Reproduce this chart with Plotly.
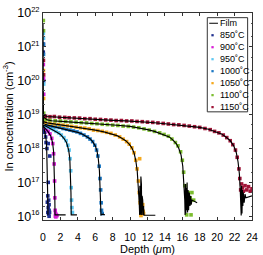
import plotly.graph_objects as go

# ---------------- data: simulated film profiles (depth in um, In conc. in cm^-3)
film_850_x = [0.0, 0.05, 0.15, 0.25, 0.35, 0.42, 0.48, 0.52, 0.55, 0.57]
film_850_y = [2e19, 4.5e18, 3.6e18, 2.8e18, 1.9e18, 1.1e18, 4e17, 1e17, 3e16, 1.1e16]

film_900_x = [0.0, 0.05, 0.3, 0.6, 0.9, 1.1, 1.22, 1.3, 1.35, 1.38, 1.6, 2.6]
film_900_y = [2e19, 4.5e18, 3.8e18, 3.1e18, 2.3e18, 1.5e18, 8e17, 2.5e17, 5e16, 1.1e16, 1.1e16, 1.1e16]

film_950_x = [0.0, 0.05, 0.4, 0.8, 1.2, 1.6, 2.0, 2.4, 2.7, 2.95, 3.08, 3.16, 3.21, 3.24, 3.5, 3.9]
film_950_y = [2e19, 5e18, 4.5e18, 4e18, 3.5e18, 3.0e18, 2.6e18, 2.0e18, 1.5e18, 9e17, 5e17, 2e17, 5e16, 1.1e16, 1.1e16, 1.1e16]

film_1000_x = [0.0, 0.05, 0.5, 1.0, 1.5, 2.0, 2.5, 3.0, 3.5, 4.0, 4.5, 5.0, 5.4, 5.7, 6.0, 6.2, 6.35,
               6.48, 6.56, 6.62, 6.66, 6.9, 7.1]
film_1000_y = [2e19, 5.4e18, 4.9e18, 4.6e18, 4.3e18, 4.05e18, 3.8e18, 3.5e18, 3.25e18, 3.0e18, 2.7e18,
               2.3e18, 1.95e18, 1.6e18, 1.2e18, 8.5e17, 5e17, 2.2e17, 8e16, 2.5e16, 1.1e16, 1.15e16, 1.1e16]

film_1050_x = [0.0, 0.05, 0.5, 1, 2, 3, 4, 5, 6, 7, 7.8, 8.5, 9.0, 9.5, 9.9, 10.2, 10.45, 10.65, 10.82,
               10.95, 11.05, 11.1, 11.12, 11.15, 11.18, 11.2, 11.24, 11.27, 11.3, 11.34, 11.38, 11.42,
               11.45, 11.5, 11.55, 11.6, 12.9]
film_1050_y = [2e19, 6.2e18, 5.7e18, 5.4e18, 5.0e18, 4.6e18, 4.25e18, 3.9e18, 3.5e18, 3.1e18, 2.75e18,
               2.4e18, 2.05e18, 1.7e18, 1.35e18, 1.05e18, 7.5e17, 4.5e17, 2.2e17, 8e16, 2.5e16, 1.1e16,
               8e16, 1.2e16, 6e16, 1.1e16, 1.5e17, 1.2e16, 9e16, 1.1e16, 4e16, 1.1e16, 3e16, 1.1e16,
               2e16, 1.07e16, 1.07e16]

film_1100_x = [0.0, 0.05, 0.5, 1, 2.5, 4, 5.5, 7, 8.5, 10, 11, 12, 12.8, 13.5, 14.0, 14.5, 14.9, 15.3,
               15.6, 15.85, 16.05, 16.2, 16.28, 16.32, 16.36, 16.4, 16.45, 16.5, 16.55, 16.6, 16.66,
               16.72, 16.8, 16.88, 16.95, 17.02, 17.1, 17.7]
film_1100_y = [5e21, 8.5e18, 7.0e18, 6.6e18, 6.2e18, 5.9e18, 5.55e18, 5.2e18, 4.85e18, 4.5e18, 4.1e18,
               3.6e18, 3.2e18, 2.8e18, 2.5e18, 2.2e18, 1.8e18, 1.4e18, 1.0e18, 6.5e17, 3e17, 1e17, 3e16,
               1.1e16, 9e16, 1.2e16, 7e16, 1.5e16, 1e17, 1.3e16, 6e16, 1.5e16, 5e16, 2e16, 4e16, 2.2e16,
               3e16, 2.5e16]

film_1150_x = [0.0, 0.05, 0.5, 2, 3.5, 5, 6.5, 8, 9.5, 11, 12.5, 14, 15.5, 17, 18, 19, 19.8, 20.5,
               21.0, 21.5, 21.9, 22.2, 22.4, 22.55, 22.65, 22.72, 22.76, 22.8, 22.85, 22.9, 22.95,
               23.0, 23.1, 23.2, 23.3, 24.0]
film_1150_y = [2e19, 9.5e18, 8.8e18, 8.3e18, 7.9e18, 7.6e18, 7.2e18, 6.8e18, 6.55e18, 6.3e18, 5.85e18,
               5.4e18, 5.0e18, 4.6e18, 4.2e18, 3.7e18, 3.2e18, 2.7e18, 2.2e18, 1.7e18, 1.2e18, 7.5e17,
               4e17, 1.8e17, 6e16, 1.5e16, 1.05e16, 8e16, 1.2e16, 6e16, 2e16, 5e16, 2.5e16, 4.5e16,
               3.5e16, 4e16]

# ---------------- data: measured profiles (markers)
sims_850_x = [0.03, 0.05, 0.07, 0.1, 0.15, 0.2, 0.3, 0.35, 0.45, 0.6, 0.78, 0.6, 0.55, 0.65, 0.7,
              0.6, 0.7, 0.55, 0.65, 0.7, 0.5, 0.75]
sims_850_y = [7e20, 1.2e21, 1e20, 4.3e18, 3.6e18, 3.0e18, 2.2e18, 1.5e18, 1.0e18, 1.4e18, 6e17, 1e17,
              4e16, 3e16, 2.2e16, 1.8e16, 1.5e16, 1.3e16, 1.15e16, 1.0e16, 2.6e16, 1.3e16]

sims_900_x = [0.04, 0.06, 0.08, 0.2, 0.4, 0.6, 0.8, 1.0, 1.12, 1.22, 1.28, 1.33, 1.36, 1.4, 1.45,
              1.5, 1.6, 1.42, 1.48]
sims_900_y = [3e20, 1.2e20, 4e19, 4.2e18, 3.7e18, 3.2e18, 2.7e18, 2.0e18, 1.4e18, 7e17, 3.5e17,
              1.1e17, 3.5e16, 1.5e16, 1.2e16, 1.1e16, 1.05e16, 1.0e16, 9.6e15]

sims_950_x = [0.04, 0.06, 0.08, 0.3, 0.6, 0.9, 1.2, 1.5, 1.8, 2.1, 2.4, 2.65, 2.85, 3.0, 3.1, 3.18,
              3.24, 3.28, 3.32, 3.38]
sims_950_y = [2.5e21, 1.8e21, 8e19, 4.6e18, 4.3e18, 3.9e18, 3.6e18, 3.2e18, 2.9e18, 2.5e18, 2.1e18,
              1.7e18, 1.25e18, 9e17, 5e17, 2.2e17, 7e16, 3e16, 1.8e16, 1.3e16]

sims_1000_x = [0.04, 0.06, 0.3, 0.7, 1.1, 1.5, 1.9, 2.3, 2.7, 3.1, 3.5, 3.9, 4.3, 4.7, 5.1, 5.4, 5.7,
               5.95, 6.15, 6.3, 6.45, 6.55, 6.62, 6.68, 6.72, 6.8]
sims_1000_y = [1.2e21, 6e20, 5.0e18, 4.8e18, 4.6e18, 4.4e18, 4.2e18, 3.9e18, 3.7e18, 3.5e18, 3.3e18,
               3.1e18, 2.8e18, 2.5e18, 2.2e18, 1.9e18, 1.6e18, 1.25e18, 9e17, 6e17, 3e17, 1.3e17,
               6e16, 2.5e16, 1.5e16, 1.2e16]

sims_1050_x = [0.05, 0.07, 0.3, 0.8, 1.3, 1.8, 2.3, 2.8, 3.3, 3.8, 4.3, 4.8, 5.3, 5.8, 6.3, 6.8, 7.3,
               7.8, 8.3, 8.8, 9.2, 9.6, 9.9, 10.2, 10.45, 10.65, 10.8, 10.95, 11.05, 11.1, 11.15, 11.2,
               11.3, 11.35, 11.45, 11.5, 11.55, 11.25]
sims_1050_y = [2e20, 3e19, 5.9e18, 5.6e18, 5.3e18, 5.1e18, 4.9e18, 4.7e18, 4.5e18, 4.3e18, 4.1e18,
               4.0e18, 3.8e18, 3.5e18, 3.4e18, 3.2e18, 3.0e18, 2.8e18, 2.5e18, 2.2e18, 1.9e18, 1.6e18,
               1.35e18, 1.05e18, 7.5e17, 4.5e17, 2.5e17, 1.1e17, 5e16, 5e17, 2.5e16, 3e16, 2e16,
               1.6e16, 2.2e16, 1.4e16, 1.2e16, 1.05e16]

sims_1100_x = [0.04, 0.06, 0.08, 0.3, 0.8, 1.4, 2.0, 2.6, 3.2, 3.8, 4.4, 5.0, 5.6, 6.2, 6.8, 7.4, 8.0,
               8.6, 9.2, 9.8, 10.4, 11.0, 11.6, 12.2, 12.8, 13.4, 13.9, 14.4, 14.8, 15.2, 15.5, 15.8,
               16.0, 16.15, 16.3, 16.4, 16.5, 16.7, 16.9, 17.1, 17.3, 17.0, 16.6]
sims_1100_y = [6e21, 3e21, 1.1e19, 7.2e18, 6.9e18, 6.6e18, 6.5e18, 6.3e18, 6.1e18, 6.0e18, 5.8e18,
               5.7e18, 5.5e18, 5.4e18, 5.2e18, 5.1e18, 4.9e18, 4.8e18, 4.6e18, 4.5e18, 4.3e18, 4.1e18,
               3.8e18, 3.5e18, 3.2e18, 2.9e18, 2.6e18, 2.3e18, 1.9e18, 1.5e18, 1.2e18, 8e17, 4.5e17,
               2e17, 8e16, 4e16, 1.1e16, 5e16, 3.5e16, 5e16, 3e16, 1.1e16, 2.5e16]

sims_1150_x = [0.05, 0.07, 0.3, 0.8, 1.3, 1.9, 2.5, 3.0, 3.6, 4.2, 4.8, 5.4, 6.0, 6.6, 7.2, 7.8, 8.4,
               9.0, 9.6, 10.2, 10.8, 11.4, 12.0, 12.6, 13.2, 13.8, 14.4, 15.0, 15.6, 16.2, 16.8, 17.4,
               18.0, 18.6, 19.2, 19.7, 20.2, 20.7, 21.1, 21.5, 21.8, 22.1, 22.3, 22.5, 22.6, 22.7,
               22.8, 22.9, 23.0, 23.2, 23.4, 23.6, 23.8, 24.0]
sims_1150_y = [4e20, 1.5e20, 9.0e18, 8.7e18, 8.8e18, 8.4e18, 8.3e18, 8.1e18, 8.0e18, 7.9e18, 7.6e18,
               7.6e18, 7.3e18, 7.2e18, 7.0e18, 6.9e18, 6.7e18, 6.7e18, 6.5e18, 6.5e18, 6.3e18, 6.2e18,
               6.0e18, 5.9e18, 5.7e18, 5.5e18, 5.3e18, 5.1e18, 5.0e18, 4.8e18, 4.6e18, 4.4e18, 4.2e18,
               3.9e18, 3.6e18, 3.2e18, 2.9e18, 2.5e18, 2.1e18, 1.7e18, 1.3e18, 9e17, 5.5e17, 2.5e17,
               1.3e17, 6e16, 9e16, 7e16, 5.5e16, 8e16, 6e16, 7.5e16, 5.5e16, 6.5e16]

labels = ["850˚C", "900˚C", "950˚C", "1000˚C", "1050˚C", "1100˚C", "1150˚C"]
colors = ["#1f2f8f", "#d91ed6", "#5ec8f2", "#1c78c4", "#f5a81c", "#7bbd2e", "#a01538"]

y_tickvals = [1e16, 1e17, 1e18, 1e19, 1e20, 1e21, 1e22]
y_exponents = ["16", "17", "18", "19", "20", "21", "22"]
x_tickvals = [0, 2, 4, 6, 8, 10, 12, 14, 16, 18, 20, 22, 24]

y_ticktext = ["10<sup><span style='font-size:7.5px'>%s</span></sup>" % e for e in y_exponents]

sims = [(sims_850_x, sims_850_y), (sims_900_x, sims_900_y), (sims_950_x, sims_950_y),
        (sims_1000_x, sims_1000_y), (sims_1050_x, sims_1050_y), (sims_1100_x, sims_1100_y),
        (sims_1150_x, sims_1150_y)]
films = [(film_850_x, film_850_y), (film_900_x, film_900_y), (film_950_x, film_950_y),
         (film_1000_x, film_1000_y), (film_1050_x, film_1050_y), (film_1100_x, film_1100_y),
         (film_1150_x, film_1150_y)]

FONT = "Arial, Liberation Sans, Helvetica, sans-serif"
fig = go.Figure()

for (sx, sy), lab, col in zip(sims, labels, colors):
    fig.add_trace(go.Scatter(x=sx, y=sy, mode="markers", name=lab, showlegend=False,
                             marker=dict(symbol="square", size=3.6, color=col, line=dict(width=0))))
for fx, fy in films:
    fig.add_trace(go.Scatter(x=fx, y=fy, mode="lines", name="Film", showlegend=False,
                             line=dict(color="black", width=1.15)))

# ---------------- custom legend box (top right)
W, H = 215.0, 222.0  # plot area size in px


def px_x(p):
    return (p - 43) / W


def px_y(p):
    return 1 - (p - 5) / H


shapes = [dict(type="rect", xref="paper", yref="paper", x0=px_x(212), x1=px_x(253.5),
               y0=px_y(111), y1=px_y(10), line=dict(color="#333333", width=1), fillcolor="white")]
annotations = []
row0, step = 16.0, 12.85
shapes.append(dict(type="line", xref="paper", yref="paper", x0=px_x(214), x1=px_x(223),
                   y0=px_y(row0), y1=px_y(row0), line=dict(color="black", width=1)))
annotations.append(dict(xref="paper", yref="paper", x=px_x(223.5), y=px_y(row0), text="Film",
                        showarrow=False, xanchor="left", yanchor="middle",
                        font=dict(family=FONT, size=9, color="black")))
for i, (lab, col) in enumerate(zip(labels, colors)):
    yy = row0 + step * (i + 1)
    shapes.append(dict(type="rect", xref="paper", yref="paper", x0=px_x(216.2), x1=px_x(218.6),
                       y0=px_y(yy + 1.2), y1=px_y(yy - 1.2), line=dict(width=0), fillcolor=col))
    annotations.append(dict(xref="paper", yref="paper", x=px_x(223.0), y=px_y(yy), text=lab,
                            showarrow=False, xanchor="left", yanchor="middle",
                            font=dict(family=FONT, size=9, color="black")))

fig.update_layout(
    width=263, height=255,
    margin=dict(l=43, r=5, t=5, b=28),
    paper_bgcolor="white", plot_bgcolor="white",
    font=dict(family=FONT, color="black"),
    shapes=shapes, annotations=annotations, showlegend=False,
    xaxis=dict(range=[0, 24], tickvals=x_tickvals, ticks="inside", ticklen=3, tickwidth=1,
               tickcolor="#333333", showline=True, linecolor="#333333", linewidth=1, mirror="ticks",
               showgrid=False, zeroline=False, tickfont=dict(size=10.5), ticklabeloverflow="allow",
               ticklabelstandoff=7,
               title=dict(text="Depth (<i>μ</i>m)", font=dict(size=11), standoff=0)),
    yaxis=dict(type="log", range=[15.89, 22.0], tickvals=y_tickvals, ticktext=y_ticktext,
               ticks="inside", ticklen=3, tickwidth=1, tickcolor="#333333", showline=True,
               linecolor="#333333", linewidth=1, mirror="ticks", showgrid=False, zeroline=False,
               tickfont=dict(size=12.5), ticklabeloverflow="allow", ticklabelstandoff=0,
               minor=dict(ticks="inside", ticklen=1.5, tickcolor="#555555", showgrid=False),
               title=dict(text="In concentration (cm<sup>-3</sup>)", font=dict(size=11), standoff=1)),
)

fig.write_html("out.html", config={"displayModeBar": False},
               post_script="document.body.style.margin='0';document.body.style.overflow='hidden';")
